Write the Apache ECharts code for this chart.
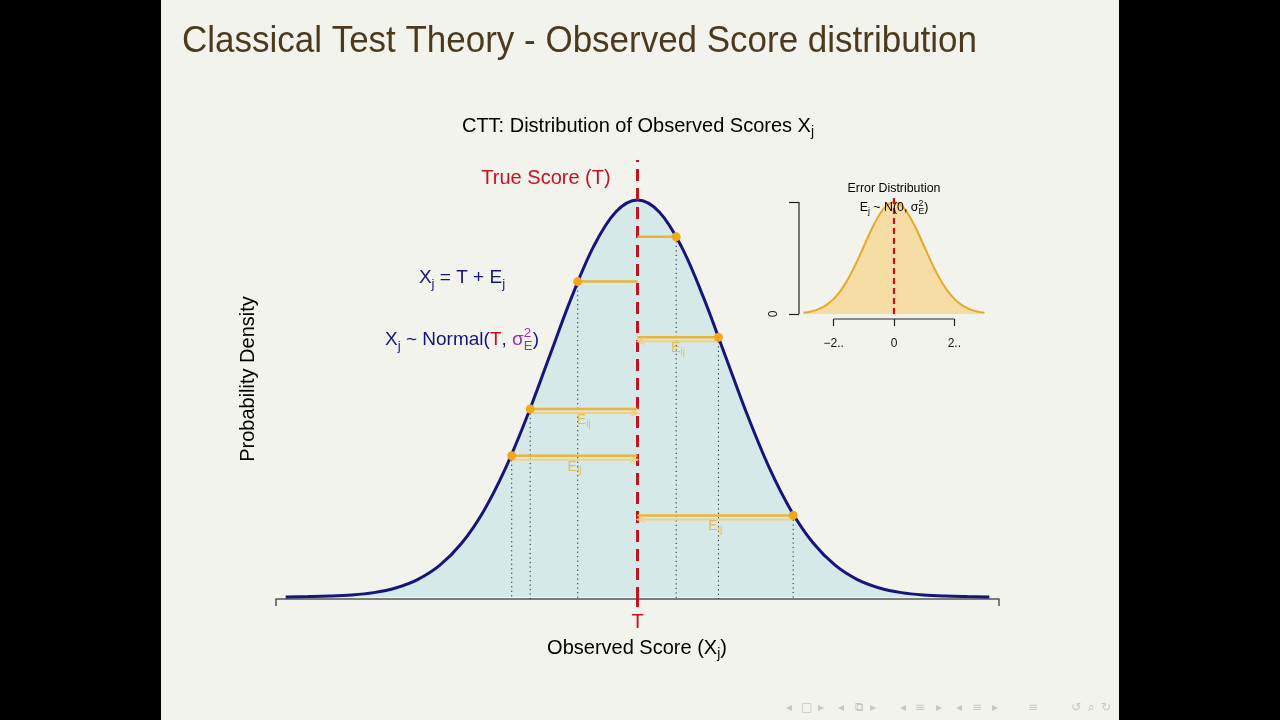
<!DOCTYPE html>
<html><head><meta charset="utf-8">
<script src="https://cdn.jsdelivr.net/npm/echarts@6/dist/echarts.min.js"></script>
<style>html,body{margin:0;padding:0;background:#000}#c{width:1280px;height:720px}</style>
</head><body><div id="c"></div>
<script>
// ---------- data (in units of the error SD) ----------
const T = 0;                       // true score position
const curveX = [-4, -3.75, -3.5, -3.25, -3, -2.75, -2.5, -2.25, -2, -1.75, -1.5, -1.25, -1, -0.75, -0.5, -0.25, 0,
                0.25, 0.5, 0.75, 1, 1.25, 1.5, 1.75, 2, 2.25, 2.5, 2.75, 3, 3.25, 3.5, 3.75, 4];
const curveDensity = [0.0001, 0.0004, 0.0009, 0.0020, 0.0044, 0.0091, 0.0175, 0.0317, 0.0540, 0.0863, 0.1295, 0.1826, 0.2420, 0.3011, 0.3521, 0.3867, 0.3989,
                      0.3867, 0.3521, 0.3011, 0.2420, 0.1826, 0.1295, 0.0863, 0.0540, 0.0317, 0.0175, 0.0091, 0.0044, 0.0020, 0.0009, 0.0004, 0.0001];
const errorValues = [0.44, -0.68, 0.92, -1.22, -1.43, 1.77];
const observedDensity = [0.362, 0.317, 0.261, 0.189, 0.142, 0.082];
const errorArrow = [0, 0, 1, 1, 1, 1];
const xRange = [-4.11, 4.11];
const yRange = [-0.002, 0.4392];

const insetX = [-3, -2.75, -2.5, -2.25, -2, -1.75, -1.5, -1.25, -1, -0.75, -0.5, -0.25, 0,
                0.25, 0.5, 0.75, 1, 1.25, 1.5, 1.75, 2, 2.25, 2.5, 2.75, 3];
const insetDensity = [0.0044, 0.0091, 0.0175, 0.0317, 0.0540, 0.0863, 0.1295, 0.1826, 0.2420, 0.3011, 0.3521, 0.3867, 0.3989,
                      0.3867, 0.3521, 0.3011, 0.2420, 0.1826, 0.1295, 0.0863, 0.0540, 0.0317, 0.0175, 0.0091, 0.0044];
const insetXRange = [-3.15, 3.15];
const insetYRange = [-0.0179, 0.425];
const insetXTicks = [-2, 0, 2];
const insetXTickLabels = ['−2..', '0', '2..'];
const insetYTicks = [0, 0.4];
const insetYTickLabels = ['0', ''];

// ---------- styles ----------
const FF = '"Liberation Sans", Arial, Helvetica, sans-serif';
const navy = '#16167a', teal = '#d5e9e9', red = '#c8101e', gold = '#e9b43a', goldLight = '#f1d081',
      dot = '#f2a61c', purple = '#9b2fb5', insetLine = '#e6aa2a', insetFill = '#f6dca5', goldText = '#e2bd5c';

const mctx = document.createElement('canvas').getContext('2d');
function tw(t, s, ff) { mctx.font = s + 'px ' + (ff || FF); return mctx.measureText(t).width; }
function txt(t, x, y, s, c, extra) {
  return Object.assign({type: 'text', x: x, y: y, z: 100, silent: true,
    style: {text: t, fontSize: s, fontFamily: FF, fill: c, textAlign: 'left', textVerticalAlign: 'middle', align: 'left', verticalAlign: 'middle'}}, extra || {});
}
function mathText(pieces, x, y, size, align) {
  const ss = size * 0.7;
  let cur = 0; const items = [];
  for (const p of pieces) {
    const [t, k, c] = p;
    if (k === 'n') { items.push([t, cur, 0, size, c]); cur += tw(t, size); }
    else if (k === 'sub') { items.push([t, cur, size * 0.32, ss, c]); cur += tw(t, ss); }
    else if (k === 'supsub') {
      items.push([t, cur, -size * 0.36, ss, c]); items.push([p[3], cur, size * 0.32, ss, c]);
      cur += Math.max(tw(t, ss), tw(p[3], ss));
    }
  }
  const x0 = align === 'center' ? x - cur / 2 : x;
  return items.map(([t, dx, dy, s, c]) => txt(t, x0 + dx, y + dy, s, c));
}

const graphics = [];
// slide background
graphics.push({type: 'rect', z: -10, silent: true, shape: {x: 161, y: 0, width: 958, height: 720}, style: {fill: '#f3f3ee'}});
// slide title (scaled to match width of the original sans face)
const titleText = 'Classical Test Theory - Observed Score distribution';
const titleW = tw(titleText, 36);
graphics.push({type: 'text', x: 182, y: 42, z: 100, silent: true, scaleX: 795 / titleW,
  style: {text: titleText, fontSize: 36, fontFamily: FF, fill: '#4b3a1d', textAlign: 'left', textVerticalAlign: 'middle', align: 'left', verticalAlign: 'middle'}});
// chart texts
graphics.push(...mathText([['CTT: Distribution of Observed Scores X', 'n', '#000'], ['j', 'sub', '#000']], 638, 126, 20, 'center'));
graphics.push(...mathText([['True Score (T)', 'n', red]], 546, 178, 20, 'center'));
graphics.push(...mathText([['X', 'n', navy], ['j', 'sub', navy], [' = T + E', 'n', navy], ['j', 'sub', navy]], 462, 278, 19, 'center'));
graphics.push(...mathText([['X', 'n', navy], ['j', 'sub', navy], [' ~ Normal(', 'n', navy], ['T', 'n', red], [', ', 'n', navy],
  ['σ', 'n', purple], ['2', 'supsub', purple, 'E'], [')', 'n', navy]], 462, 340, 19, 'center'));
graphics.push(...mathText([['Observed Score (X', 'n', '#000'], ['j', 'sub', '#000'], [')', 'n', '#000']], 637, 648, 20, 'center'));
graphics.push({type: 'text', x: 248, y: 379, rotation: Math.PI / 2, z: 100, silent: true,
  style: {text: 'Probability Density', fontSize: 20, fontFamily: FF, fill: '#000', textAlign: 'center', textVerticalAlign: 'middle', align: 'center', verticalAlign: 'middle'}});
// inset texts
graphics.push(...mathText([['Error Distribution', 'n', '#000']], 894, 188.5, 12.4, 'center'));
graphics.push(...mathText([['E', 'n', '#000'], ['j', 'sub', '#000'], [' ~ N(0, ', 'n', '#000'], ['σ', 'n', '#000'], ['2', 'supsub', '#000', 'E'], [')', 'n', '#000']], 894, 208, 12.4, 'center'));
// beamer navigation symbols
const nav = [[789, '◂'], [807, '□'], [821, '▸'], [841, '◂'], [859, '⧉'], [873, '▸'], [903, '◂'], [920, '≡'], [939, '▸'],
             [959, '◂'], [977, '≡'], [995, '▸'], [1033, '≡'], [1076, '↺'], [1091, '⌕'], [1106, '↻']];
nav.forEach(([x, g]) => graphics.push({type: 'text', x: x, y: 708, z: 100, silent: true,
  style: {text: g, fontSize: 12, fontFamily: '"DejaVu Sans", sans-serif', fill: '#c6c6c6', textAlign: 'center', textVerticalAlign: 'middle', align: 'center', verticalAlign: 'middle'}}));

const errorData = errorValues.map((e, i) => [e, observedDensity[i], errorArrow[i]]);

const option = {
  backgroundColor: '#000',
  animation: false,
  graphic: {elements: graphics},
  grid: [
    {left: 276, width: 723, top: 160, height: 439},
    {left: 799, width: 190, top: 195, height: 124}
  ],
  xAxis: [
    {gridIndex: 0, type: 'value', position: 'bottom', min: xRange[0], max: xRange[1], splitLine: {show: false},
      axisLine: {show: true, onZero: false, lineStyle: {color: '#555', width: 1.5}},
      axisTick: {show: true, customValues: xRange, length: 7, lineStyle: {color: '#555', width: 1.5}},
      axisLabel: {show: false}},
    {gridIndex: 0, type: 'value', position: 'bottom', min: xRange[0], max: xRange[1], splitLine: {show: false},
      axisLine: {show: false, onZero: false},
      axisTick: {show: true, customValues: [T], length: 8, lineStyle: {color: red, width: 3}},
      axisLabel: {show: true, customValues: [T], formatter: () => 'T', color: red, fontSize: 20, fontFamily: FF, margin: 13}},
    {gridIndex: 1, type: 'value', position: 'bottom', min: insetXRange[0], max: insetXRange[1], splitLine: {show: false},
      axisLine: {show: false, onZero: false},
      axisTick: {show: true, customValues: insetXTicks, length: 7, lineStyle: {color: '#222', width: 1.2}},
      axisLabel: {show: true, customValues: insetXTicks, formatter: v => insetXTickLabels[insetXTicks.indexOf(v)],
        color: '#111', fontSize: 12, fontFamily: FF, margin: 19}}
  ],
  yAxis: [
    {gridIndex: 0, type: 'value', min: yRange[0], max: yRange[1], show: false},
    {gridIndex: 1, type: 'value', position: 'left', min: insetYRange[0], max: insetYRange[1], splitLine: {show: false},
      axisLine: {show: false, onZero: false},
      axisTick: {show: true, customValues: insetYTicks, length: 10, lineStyle: {color: '#222', width: 1.2}},
      axisLabel: {show: true, customValues: insetYTicks, formatter: v => insetYTickLabels[insetYTicks.indexOf(v)],
        rotate: 90, color: '#111', fontSize: 12, fontFamily: FF, margin: 19}}
  ],
  series: [
    {type: 'line', xAxisIndex: 0, yAxisIndex: 0, z: 2, clip: false, smooth: 0.35, showSymbol: false,
      data: curveX.map((x, i) => [x, curveDensity[i]]),
      lineStyle: {color: navy, width: 3}, areaStyle: {color: teal, opacity: 1}},
    {type: 'custom', xAxisIndex: 0, yAxisIndex: 0, z: 3, data: errorData, clip: false,
      renderItem: (params, api) => {
        const top = api.coord([api.value(0), api.value(1)]);
        const bot = api.coord([api.value(0), yRange[0]]);
        return {type: 'line', shape: {x1: top[0], y1: top[1], x2: bot[0], y2: bot[1]},
          style: {stroke: '#222', lineWidth: 1, lineDash: [1.2, 3.3]}};
      }},
    {type: 'line', xAxisIndex: 0, yAxisIndex: 0, z: 4, clip: false, showSymbol: false,
      data: [[T, yRange[0]], [T, yRange[1]]],
      lineStyle: {color: red, width: 3, type: [12, 7]}},
    {type: 'custom', xAxisIndex: 0, yAxisIndex: 0, z: 5, data: errorData, clip: false,
      renderItem: (params, api) => {
        const x = api.value(0), d = api.value(1), arrow = api.value(2);
        const p = api.coord([x, d]), t = api.coord([T, d]);
        const dir = Math.sign(t[0] - p[0]);
        const kids = [];
        kids.push({type: 'line', shape: {x1: t[0], y1: t[1], x2: p[0], y2: p[1]}, style: {stroke: gold, lineWidth: 2.5}});
        if (arrow) {
          const oy = 4;
          kids.push({type: 'line', shape: {x1: p[0], y1: p[1] + oy, x2: t[0], y2: t[1] + oy}, style: {stroke: goldLight, lineWidth: 2}});
          kids.push({type: 'polyline', shape: {points: [[t[0] - dir * 7, t[1] + oy - 3], [t[0], t[1] + oy], [t[0] - dir * 7, t[1] + oy + 3]]},
            style: {stroke: goldLight, fill: null, lineWidth: 1.5}});
          const mx = (p[0] + t[0]) / 2;
          kids.push({type: 'text', x: mx - 7, y: p[1] + 11, style: {text: 'E', fontSize: 14, fontFamily: FF, fill: goldText, align: 'left', verticalAlign: 'middle'}});
          kids.push({type: 'text', x: mx + 2.5, y: p[1] + 15, style: {text: 'ij', fontSize: 10, fontFamily: FF, fill: goldText, align: 'left', verticalAlign: 'middle'}});
        }
        kids.push({type: 'circle', shape: {cx: p[0], cy: p[1], r: 4.5}, style: {fill: dot}});
        return {type: 'group', children: kids};
      }},
    // inset
    {type: 'line', xAxisIndex: 2, yAxisIndex: 1, z: 2, clip: false, smooth: 0.35, showSymbol: false,
      data: insetX.map((x, i) => [x, insetDensity[i]]),
      lineStyle: {color: insetLine, width: 2}, areaStyle: {color: insetFill, opacity: 1}},
    {type: 'line', xAxisIndex: 2, yAxisIndex: 1, z: 4, clip: false, showSymbol: false,
      data: [[T, 0], [T, insetYRange[1]]],
      lineStyle: {color: red, width: 2.2, type: [6, 4]}},
    {type: 'line', xAxisIndex: 2, yAxisIndex: 1, z: 4, clip: false, showSymbol: false,
      data: [[insetXRange[0], insetYTicks[0]], [insetXRange[0], insetYTicks[1]]],
      lineStyle: {color: '#222', width: 1.2}},
    {type: 'line', xAxisIndex: 2, yAxisIndex: 1, z: 4, clip: false, showSymbol: false,
      data: [[insetXTicks[0], insetYRange[0]], [insetXTicks[insetXTicks.length - 1], insetYRange[0]]],
      lineStyle: {color: '#222', width: 1.2}}
  ]
};
const chart = echarts.init(document.getElementById('c'), null, {renderer: 'canvas'});
chart.setOption(option);
</script>
</body></html>
